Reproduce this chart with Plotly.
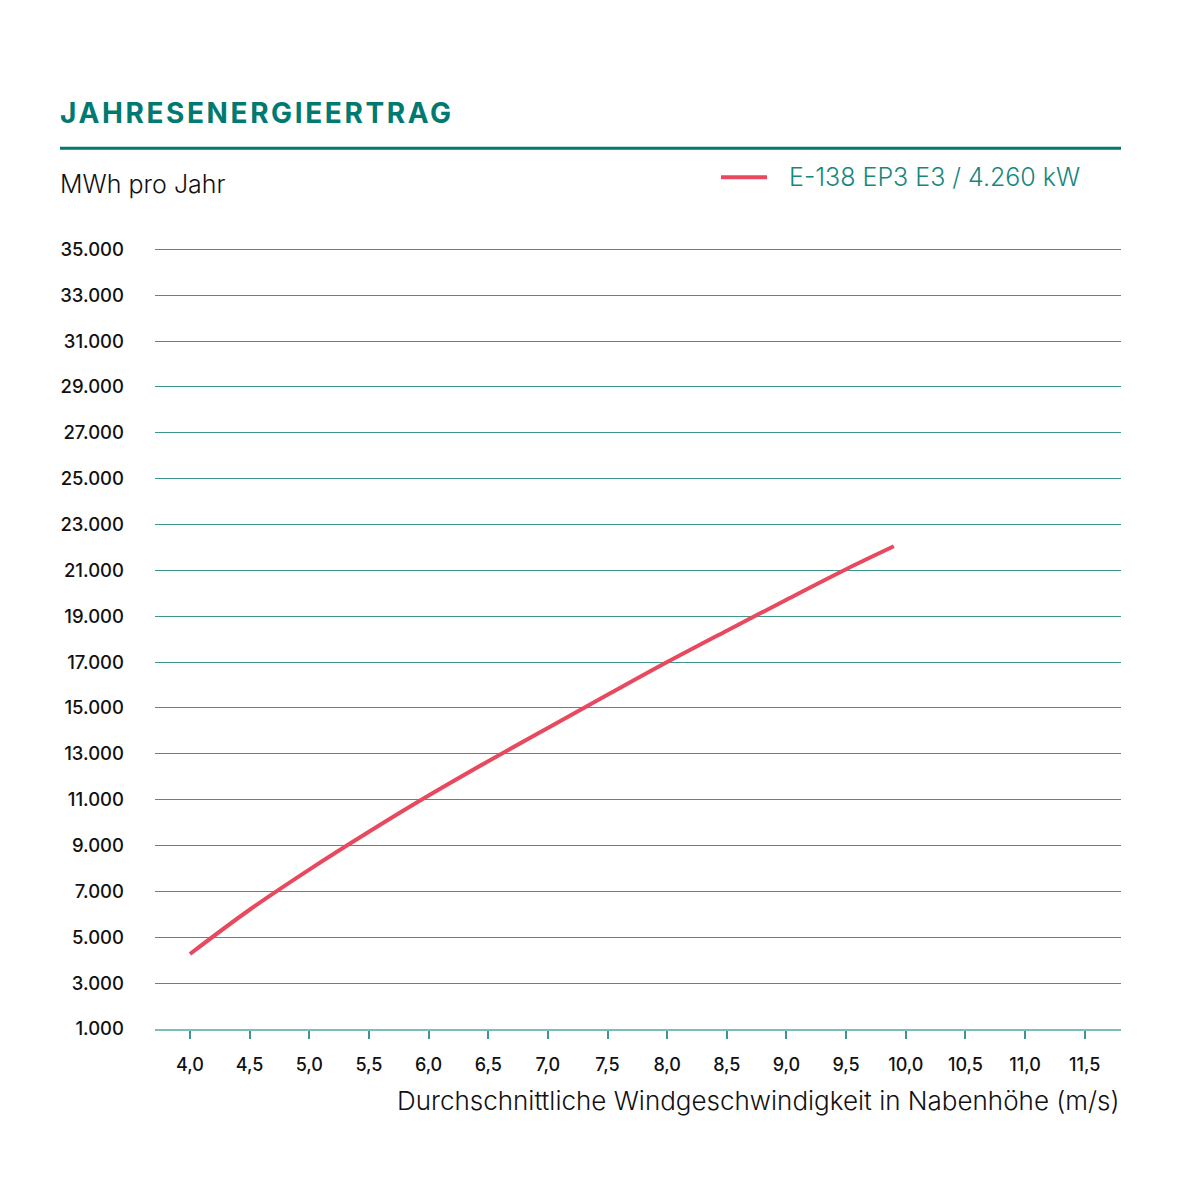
import plotly.graph_objects as go

# Windgeschwindigkeit (m/s) und Jahresenergieertrag (MWh/Jahr)
wind_speed = [4.0, 4.5, 5.0, 5.5, 6.0, 6.5, 7.0, 7.5, 8.0, 8.5, 9.0, 9.5, 9.9]
energy_mwh = [4270, 6200, 7950, 9600, 11180, 12680, 14130, 15570, 17000, 18370, 19720, 21050, 22050]

series_name = "E-138 EP3 E3 / 4.260 kW"
y_ticks = list(range(1000, 35001, 2000))
x_ticks = [4.0 + 0.5 * i for i in range(16)]
y_max = 35100  # a bit of headroom so the 35.000 gridline is drawn

TEAL = "#007A70"
GRID = "#3A968E"
RED = "#E8495F"
FONT = "Inter"

W, H = 1181, 1181
OFF = 8  # page body margin
L, R, B = 155 - OFF, 1121 - OFF, 1029 - OFF
T = B - 780 * (y_max - 1000) / 34000  # keeps 35.000 at the reference pixel row


def px(x):
    return (x - OFF - L) / (R - L)


def py(y):
    return (B - (y - OFF)) / (B - T)


fig = go.Figure()
fig.add_trace(go.Scatter(
    x=wind_speed, y=energy_mwh, mode="lines",
    line=dict(color=RED, width=4, shape="spline"),
    name=series_name, showlegend=False,
))

fig.update_layout(
    width=W, height=H,
    margin=dict(l=L, r=W - R, t=T, b=H - B),
    paper_bgcolor="white", plot_bgcolor="white",
    separators=",.",
    font=dict(family=FONT, color="#111111"),
    xaxis=dict(
        range=[3.707, 11.804], tickvals=x_ticks, tickformat=".1f",
        showgrid=False, zeroline=False,
        showline=True, linecolor="#7DBDB7", linewidth=2,
        ticks="outside", ticklen=8, tickwidth=1.5, tickcolor="#3A968E",
        tickfont=dict(size=18, family=FONT, weight=500, color="#111111"),
        ticklabelstandoff=10,
    ),
    yaxis=dict(
        range=[1000, y_max], tickvals=y_ticks, tickformat=",d",
        showgrid=True, gridcolor=GRID, gridwidth=1,
        zeroline=False, showline=False, ticks="",
        tickfont=dict(size=18.5, family=FONT, weight=500, color="#111111"),
        ticklabelstandoff=30,
    ),
    shapes=[
        # rule under the title
        dict(type="line", xref="paper", yref="paper",
             x0=px(60), x1=px(1121), y0=py(148), y1=py(148),
             line=dict(color=TEAL, width=3)),
        # legend sample
        dict(type="line", xref="paper", yref="paper",
             x0=px(721), x1=px(767), y0=py(177), y1=py(177),
             line=dict(color=RED, width=4)),
    ],
    annotations=[
        dict(text='<span style="letter-spacing:2.6px"><b>JAHRESENERGIEERTRAG</b></span>',
             xref="paper", yref="paper", x=px(58), y=py(113),
             xanchor="left", yanchor="middle", showarrow=False,
             font=dict(size=28, color=TEAL, family=FONT)),
        dict(text="MWh pro Jahr",
             xref="paper", yref="paper", x=px(58), y=py(184),
             xanchor="left", yanchor="middle", showarrow=False,
             font=dict(size=25, color="#111111", family=FONT, weight=300)),
        dict(text=series_name,
             xref="paper", yref="paper", x=px(787), y=py(177),
             xanchor="left", yanchor="middle", showarrow=False,
             font=dict(size=25, color="#16877D", family=FONT, weight=300)),
        dict(text="Durchschnittliche Windgeschwindigkeit in Nabenhöhe (m/s)",
             xref="paper", yref="paper", x=px(1122), y=py(1101),
             xanchor="right", yanchor="middle", showarrow=False,
             font=dict(size=26, color="#111111", family=FONT, weight=300)),
    ],
)

fig.write_html("out.html")
